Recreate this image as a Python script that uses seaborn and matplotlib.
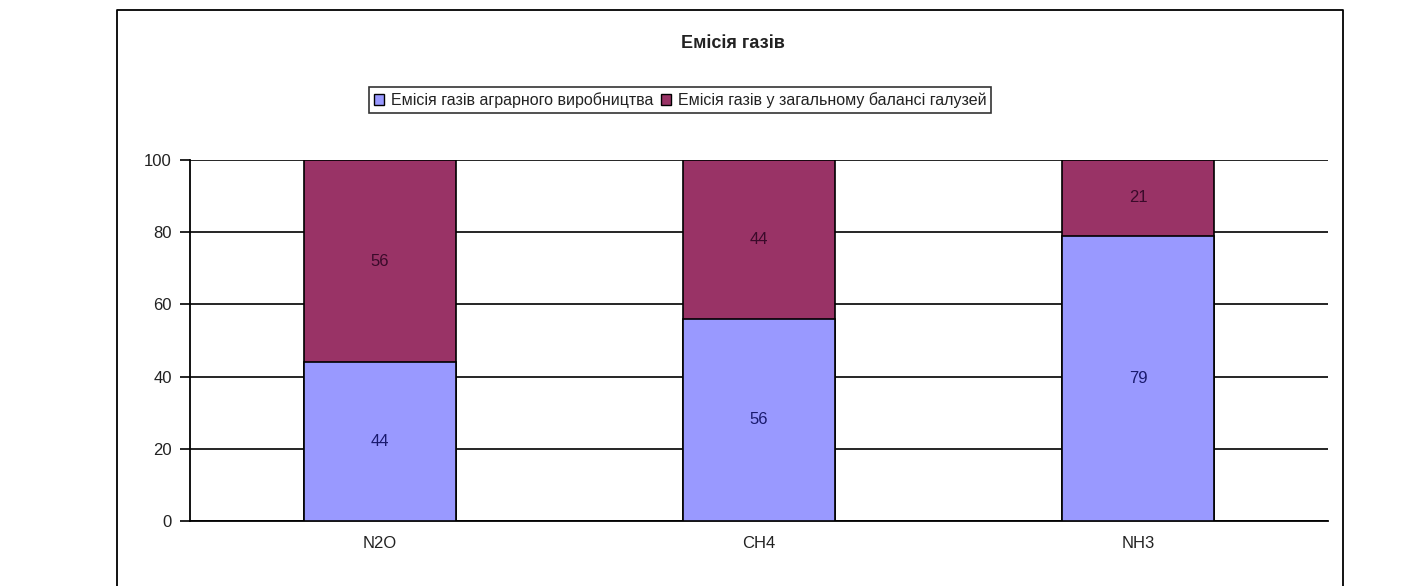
import matplotlib
matplotlib.use("Agg")
import matplotlib.pyplot as plt
import seaborn as sns
import pandas as pd
import numpy as np
from matplotlib.lines import Line2D
from matplotlib.patches import Patch

categories = ["N2O", "CH4", "NH3"]
agrarian = [44, 56, 79]
other = [56, 44, 21]
series_names = ["Емісія газів аграрного виробництва", "Емісія газів у загальному балансі галузей"]
title = "Емісія газів"
yticks = [0, 20, 40, 60, 80, 100]

c_low = "#9999FF"
c_high = "#993366"

sns.set_theme(style="white")
plt.rcParams['font.family'] = ['Liberation Sans', 'DejaVu Sans']

W, H = 1402, 586
fig = plt.figure(figsize=(W / 100, H / 100), dpi=100)
fig.patch.set_facecolor("white")

ax = fig.add_axes([190 / W, 1 - 521 / H, (1328 - 190) / W, (521 - 160) / H])

df = pd.DataFrame({"cat": categories, "low": agrarian, "high": other})
df["total"] = df["low"] + df["high"]

sns.barplot(data=df, x="cat", y="total", color=c_high, saturation=1, width=0.4,
            edgecolor="black", linewidth=1.2, ax=ax, zorder=3)
sns.barplot(data=df, x="cat", y="low", color=c_low, saturation=1, width=0.4,
            edgecolor="black", linewidth=1.2, ax=ax, zorder=4)

for i, (lo, hi) in enumerate(zip(agrarian, other)):
    ax.text(i, lo / 2, str(lo), ha="center", va="center", fontsize=12, color="#1a1a6e", zorder=5)
    ax.text(i, lo + hi / 2, str(hi), ha="center", va="center", fontsize=12, color="#3a0a2a", zorder=5)

ax.set_xlim(-0.5, 2.5)
ax.set_ylim(0, 100)
ax.set_yticks(yticks)
ax.set_yticklabels([str(v) for v in yticks], fontsize=12)
ax.set_xlabel("")
ax.set_ylabel("")
ax.tick_params(axis="x", which="major", length=0, labelsize=12, pad=11)
ax.set_xticks([-0.5, 0.5, 1.5, 2.5], minor=True)
ax.tick_params(axis="x", which="minor", length=5, width=1, color="black", direction="out")
ax.tick_params(axis="y", length=7, width=1.2, color="black", direction="out", pad=6, left=True)
for lab in ax.get_xticklabels() + ax.get_yticklabels():
    lab.set_color("#222222")

ax.grid(axis="y", color="black", linewidth=1.2, zorder=0)
ax.set_axisbelow(True)
for s in ["top", "right"]:
    ax.spines[s].set_visible(False)
for s in ["left", "bottom"]:
    ax.spines[s].set_color("black")
    ax.spines[s].set_linewidth(1.3)

# chart area frame
fx0, fx1, fy1 = 117 / W, 1343 / W, 1 - 10 / H
fig.add_artist(Line2D([fx0, fx0, fx1, fx1], [0, fy1, fy1, 0], transform=fig.transFigure,
                      color="black", linewidth=1.3))

fig.text(733 / W, 1 - 44 / H, title, ha="center", va="center", fontsize=13, fontweight="bold",
         color="#222222")

handles = [Patch(facecolor=c_low, edgecolor="black", linewidth=1),
           Patch(facecolor=c_high, edgecolor="black", linewidth=1)]
leg = fig.legend(handles, series_names, loc="center", bbox_to_anchor=(680 / W, 1 - 100 / H),
                 ncol=2, frameon=True, fontsize=11.5, handlelength=0.65, handleheight=0.65,
                 handletextpad=0.4, columnspacing=0.5, borderpad=0.3, fancybox=False,
                 borderaxespad=0)
leg.get_frame().set_edgecolor("black")
leg.get_frame().set_linewidth(1.2)
for t in leg.get_texts():
    t.set_color("#222222")

fig.savefig("out.png", dpi=100, facecolor="white")
